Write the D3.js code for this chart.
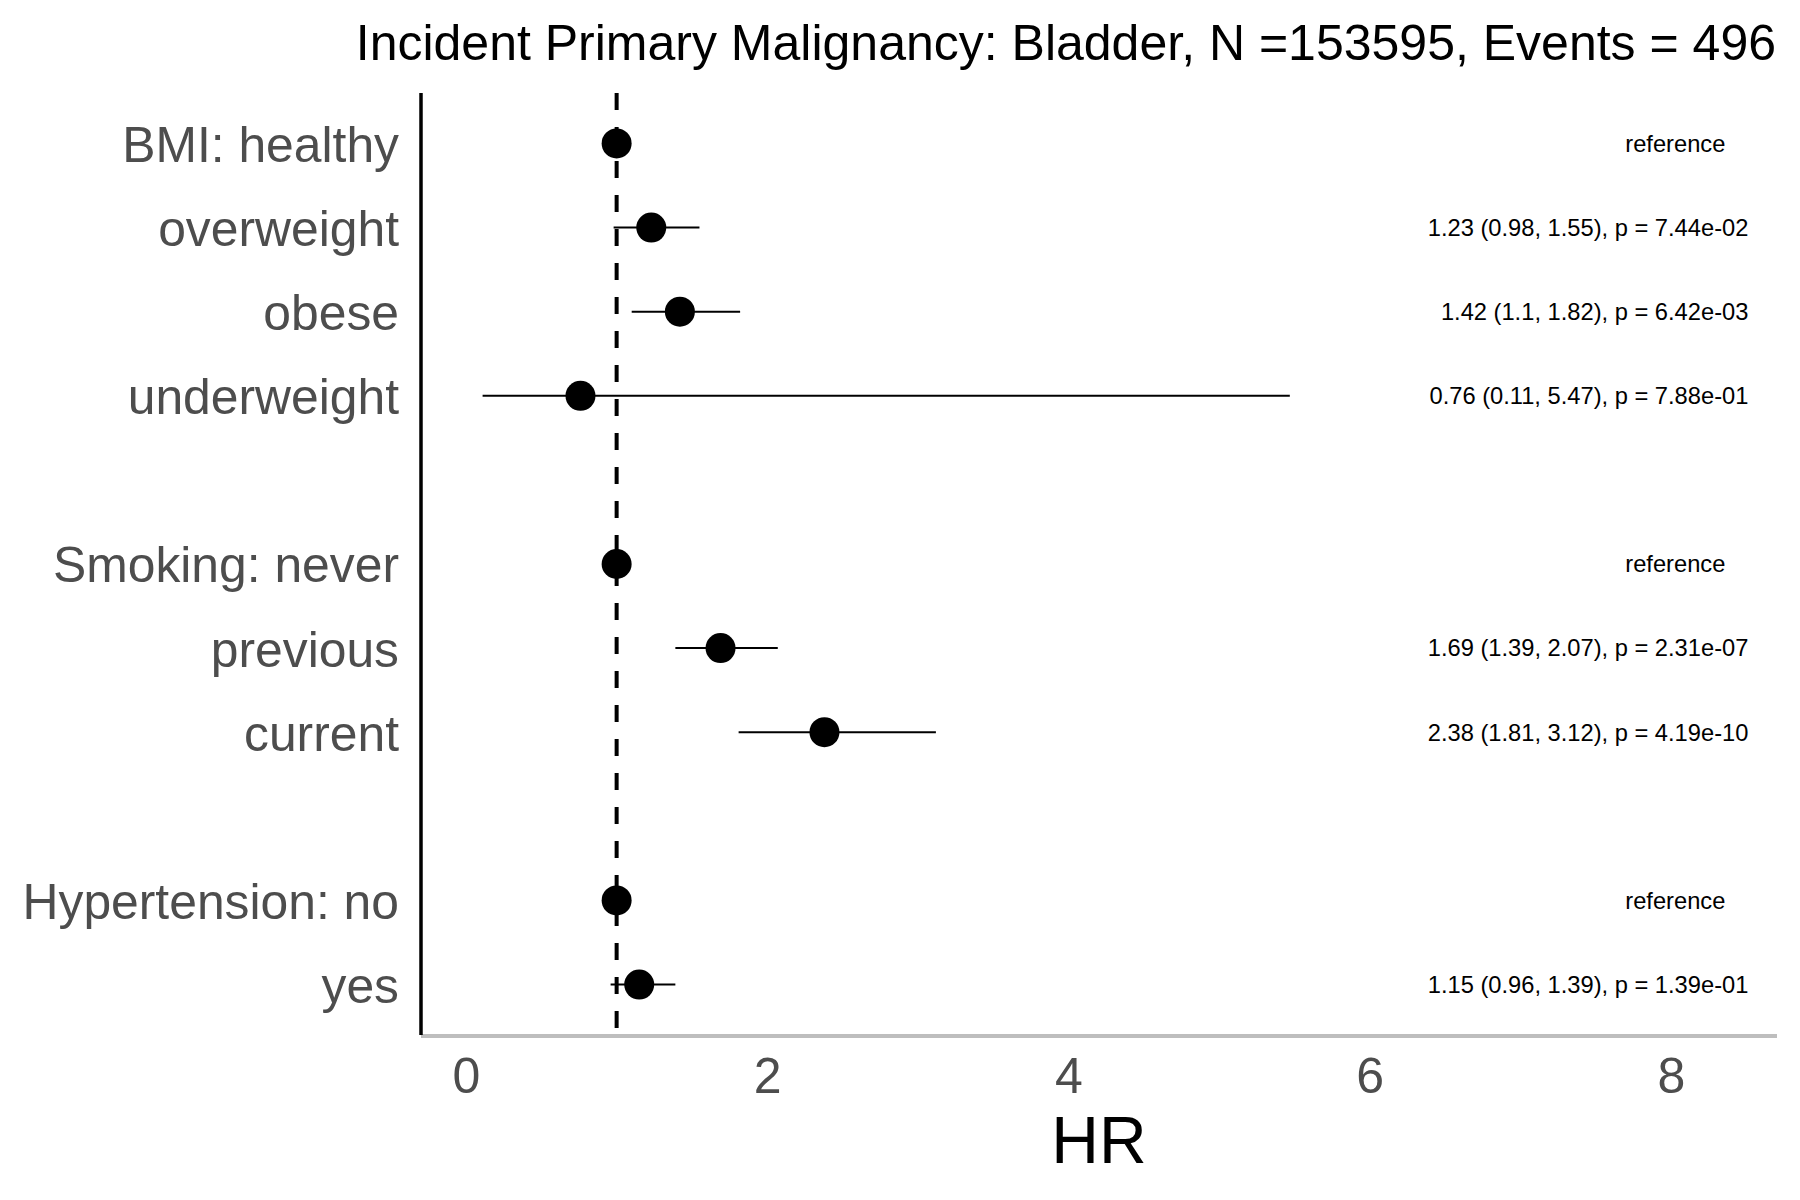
<!DOCTYPE html>
<html>
<head>
<meta charset="utf-8">
<script src="https://cdn.jsdelivr.net/npm/d3@7"></script>
<style>
  html, body { margin: 0; padding: 0; background: #fff; }
  svg { display: block; font-family: "Liberation Sans", Arial, Helvetica, sans-serif; }
</style>
</head>
<body>
<svg id="chart" width="1800" height="1200"></svg>
<script>
// ---- data ----
const yCategories = ["BMI: healthy", "overweight", "obese", "underweight", " ",
                     "Smoking: never", "previous", "current", "  ",
                     "Hypertension: no", "yes"];
const terms  = ["BMI: healthy", "overweight", "obese", "underweight",
                "Smoking: never", "previous", "current",
                "Hypertension: no", "yes"];
const hr     = [1, 1.23, 1.42, 0.76, 1, 1.69, 2.38, 1, 1.15];
const lower  = [null, 0.98, 1.10, 0.11, null, 1.39, 1.81, null, 0.96];
const upper  = [null, 1.55, 1.82, 5.47, null, 2.07, 3.12, null, 1.39];
const annotations = [
  "reference",
  "1.23 (0.98, 1.55), p = 7.44e-02",
  "1.42 (1.1, 1.82), p = 6.42e-03",
  "0.76 (0.11, 5.47), p = 7.88e-01",
  "reference",
  "1.69 (1.39, 2.07), p = 2.31e-07",
  "2.38 (1.81, 3.12), p = 4.19e-10",
  "reference",
  "1.15 (0.96, 1.39), p = 1.39e-01"
];
const xTicks = [0, 2, 4, 6, 8];
const refLine = 1;
const titleText = "Incident Primary Malignancy: Bladder, N =153595, Events = 496";
const xTitle = "HR";

// ---- layout ----
const panel = { left: 421, right: 1777, top: 93, bottom: 1035 };
const xDomain = [-0.299, 8.705];
const statLabelX = 8.515;  // right-aligned stats column (data units)
const refLabelX = 8.03;    // centred "reference" column (data units)

const rows = terms.map((t, i) => ({
  term: t, hr: hr[i], lo: lower[i], hi: upper[i], label: annotations[i]
}));

const svg = d3.select("#chart");

const x = d3.scaleLinear().domain(xDomain).range([panel.left, panel.right]);
const y = d3.scalePoint().domain(yCategories).range([panel.top, panel.bottom]).padding(0.6);

// title
svg.append("text")
  .attr("x", panel.right - 1)
  .attr("y", 60)
  .attr("text-anchor", "end")
  .attr("font-size", 50)
  .attr("fill", "#000")
  .text(titleText);

// x axis (labels only)
const xAxis = svg.append("g")
  .attr("transform", `translate(0,${panel.bottom})`)
  .call(d3.axisBottom(x).tickValues(xTicks).tickSize(0).tickPadding(22.5).tickFormat(d3.format("d")));
xAxis.select(".domain").remove();
xAxis.selectAll("text").attr("font-size", 50).attr("fill", "#4D4D4D").attr("font-family", null);

// y axis (labels only)
const yAxis = svg.append("g")
  .attr("transform", `translate(${panel.left},0)`)
  .call(d3.axisLeft(y).tickSize(0).tickPadding(22).tickFormat(d => d.trim()));
yAxis.select(".domain").remove();
yAxis.selectAll("text").attr("font-size", 49.8).attr("fill", "#4D4D4D").attr("dy", "0.36em").attr("font-family", null);

// reference dashed line
svg.append("line")
  .attr("x1", x(refLine)).attr("x2", x(refLine))
  .attr("y1", panel.top).attr("y2", panel.bottom)
  .attr("stroke", "#000").attr("stroke-width", 4)
  .attr("stroke-dasharray", "17,17");

// CI lines
svg.append("g").selectAll("line")
  .data(rows.filter(d => d.lo !== null))
  .join("line")
  .attr("x1", d => x(d.lo)).attr("x2", d => x(d.hi))
  .attr("y1", d => y(d.term)).attr("y2", d => y(d.term))
  .attr("stroke", "#000").attr("stroke-width", 2);

// points
svg.append("g").selectAll("circle")
  .data(rows)
  .join("circle")
  .attr("cx", d => x(d.hr)).attr("cy", d => y(d.term))
  .attr("r", 15).attr("fill", "#000");

// annotations
svg.append("g").selectAll("text")
  .data(rows)
  .join("text")
  .attr("x", d => d.lo === null ? x(refLabelX) : x(statLabelX))
  .attr("y", d => y(d.term))
  .attr("dy", "0.35em")
  .attr("text-anchor", d => d.lo === null ? "middle" : "end")
  .attr("font-size", 23.7)
  .attr("fill", "#000")
  .text(d => d.label);

// axis lines
svg.append("line")
  .attr("x1", panel.left).attr("x2", panel.right)
  .attr("y1", panel.bottom + 1).attr("y2", panel.bottom + 1)
  .attr("stroke", "#BEBEBE").attr("stroke-width", 4);
svg.append("line")
  .attr("x1", panel.left).attr("x2", panel.left)
  .attr("y1", panel.top).attr("y2", panel.bottom)
  .attr("stroke", "#000").attr("stroke-width", 3.5);

// x axis title
svg.append("text")
  .attr("x", (panel.left + panel.right) / 2)
  .attr("y", 1163)
  .attr("text-anchor", "middle")
  .attr("font-size", 66)
  .attr("fill", "#000")
  .text(xTitle);
</script>
</body>
</html>
